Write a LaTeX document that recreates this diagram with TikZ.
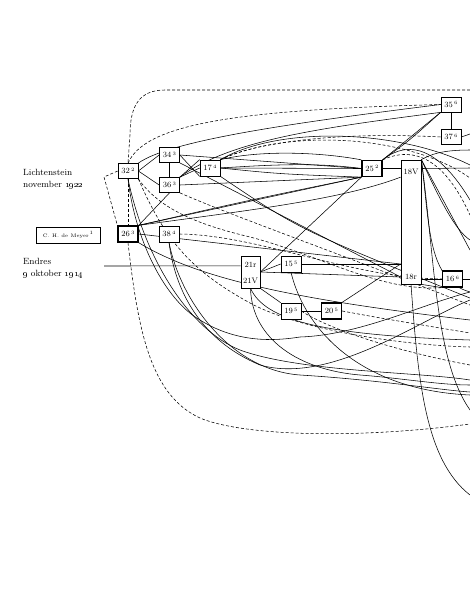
\documentclass[tikz,border=0pt]{standalone}
\pgfdeclarelayer{bg}
\pgfsetlayers{bg,main}
\newcommand\supn[1]{\,\raisebox{2.6pt}{\fontsize{5}{5}\selectfont #1}}
\begin{document}
\begin{tikzpicture}[x=1pt,y=-1pt,
  box/.style={draw,line width=0.7pt,inner sep=0pt,minimum width=20pt,minimum height=15pt,font=\fontsize{8}{8}\selectfont,fill=white},
  bbox/.style={box,line width=1.3pt},
  tx/.style={inner sep=0pt,font=\fontsize{8}{8}\selectfont},
  ln/.style={line width=0.55pt},
  dl/.style={line width=0.55pt,dash pattern=on 3pt off 2pt},
  lbl/.style={font=\fontsize{9}{12}\selectfont,align=left,anchor=west,inner sep=0pt}]
\useasboundingbox (0,0) rectangle (470,598);

% text labels
\node[lbl] (lich) at (23,179) {Lichtenstein\\november \oldstylenums{1922}};
\node[lbl] (endr) at (23,268) {Endres\\\oldstylenums{9} oktober \oldstylenums{1914}};

% boxes
\node[box,minimum width=64pt,minimum height=16pt,font=\fontsize{5}{6}\selectfont] (meyer) at (68,235) {C. H. de Meyer\supn{1}};
\node[box] (n32) at (128,171) {32\supn{2}};
\node[box] (n34) at (169.5,155) {34\supn{3}};
\node[box] (n36) at (169.5,185) {36\supn{3}};
\node[box,minimum height=16pt] (n17) at (210,168) {17\supn{4}};
\node[bbox,minimum height=16pt] (n26) at (128,234) {26\supn{3}};
\node[box,minimum height=16pt] (n38) at (169,234) {38\supn{4}};
\node[bbox,minimum height=16pt] (n25) at (372,168.5) {25\supn{2}};
\node[box,minimum height=124pt] (n18) at (411,222) {};
\node[tx] (t18v) at (411,172) {18V};
\node[tx] (t18r) at (411,277) {18r};
\node[box] (n35) at (451,104.5) {35\supn{6}};
\node[box] (n37) at (451,137) {37\supn{6}};
\node[box,minimum width=19pt,minimum height=32pt] (n21) at (250.5,272) {};
\node[tx] (t21r) at (250.5,265) {21r};
\node[tx] (t21v) at (250.5,281) {21V};
\node[box,minimum height=16pt] (n15) at (291,264) {15\supn{5}};
\node[box,minimum height=16pt] (n19) at (291,311) {19\supn{5}};
\node[bbox,minimum height=16pt] (n20) at (331.5,311) {20\supn{5}};
\node[bbox,minimum height=16pt] (n16) at (452.5,279) {16\supn{6}};

% free ends
\coordinate (endl) at (104,266);
\coordinate (kink) at (104,177);
\coordinate (ftop) at (470,90);
\coordinate (fbot) at (470,424);
\coordinate (r16) at (470,279);
\coordinate (r18) at (470,168);
\coordinate (r37) at (470,134);
\foreach \n/\y in {a/165,b/178,c/200,d/215,e/250,f/240,g/410,h/292,i/380,j/300,k/392,l/385,m/340,n/395,o/347,p/333,q/365,r/305,s/320,t/288,u/298,v/150,w/185}{\coordinate (r\n) at (470,\y);}
\coordinate (bot1) at (470,495);

\begin{pgfonlayer}{bg}
\fill[white] (0,0) rectangle (470,598);
% dashed frame
\draw[dl] (ftop) -- (165,90) .. controls (140,90) and (130,105) .. (130,135) -- (n32.north);
\draw[dl] (n26.south) .. controls (138,330) and (150,395) .. (200,418) .. controls (240,435) and (350,440) .. (fbot);
\draw[dl] (n32.west) -- (kink) -- (n26.north west);
\draw[dl] (n32.south) -- (n26.north);
\draw[dl] (n32.north) .. controls (145,125) and (230,110) .. (n35.west);
\draw[dl] (n17.north east) .. controls (260,140) and (350,132) .. (n37.west);
\draw[dl] (n17.north east) .. controls (290,128) and (410,135) .. (rb);
\draw[dl] (n25.north east) .. controls (415,145) and (445,160) .. (rd);
\draw[dl] (n38.east) .. controls (260,235) and (350,278) .. (n16.west);
\draw[dl] (n32.south east) .. controls (160,210) and (200,225) .. (250,237) .. controls (320,255) and (380,292) .. (n16.south west);
\draw[dl] (n32.south east) .. controls (165,240) and (190,270) .. (250,303) .. controls (300,330) and (400,345) .. (ro);
\draw[dl] (n20.east) .. controls (380,318) .. (rp);
\draw[dl] (n19.east) .. controls (330,330) and (400,352) .. (rq);
\draw[dl] (n36.south east) .. controls (230,215) and (330,250) .. (rr);

% solid connectors
\draw[ln] (endl) -- (n21.148);
\draw[ln] (n32.east) -- (n34.west);
\draw[ln] (n32.east) -- (n36.west);
\draw[ln] (n34) -- (n36);
\draw[ln] (n36.south) -- (n26.north east);
\draw[ln] (n34.east) -- (n17.south west);
\draw[ln] (n36.north east) -- (n17.north west);
\draw[ln] (n36.north east) -- (n17.west);
\draw[ln] (n34.east) -- (n25.west);
\draw[ln] (n34.south east) -- (n18.west |- t18r);
\draw[ln] (n17.east) -- (n25.west);
\draw[ln] (n17.east) .. controls (280,164) and (320,163) .. (n25.west);
\draw[ln] (n17.east) .. controls (280,174) .. (n25.south west);
\draw[ln] (n17.north east) .. controls (260,150) and (320,152) .. (n25.north west);
\draw[ln] (n17.north east) .. controls (280,125) and (400,130) .. (ra);
\draw[ln] (n17.south east) .. controls (300,230) .. (ru);
\draw[ln] (n36.east) -- (n25.south west);
\draw[ln] (n26.north east) -- (n25.south west);
\draw[ln] (n26.north east) .. controls (250,200) .. (n25.south west);
\draw[ln] (n26.north east) .. controls (250,210) and (340,200) .. (n18.103);
\draw[ln] (n26.east) -- (n18.west |- n15.east);
\draw[ln] (n15.east) -- (n18.west |- n15.east);
\draw[ln] (n21.east) -- (n15.west);
\draw[ln] (n21.east) -- (n25.south west);
\draw[ln] (n21.east) -- (n18.west |- t18r);
\draw[ln] (n21.south east) -- (n19.north west);
\draw[ln] (n19) -- (n20);
\draw[ln] (n20.north east) -- (n18.west |- n15.east);
\draw[ln] (n18.east |- n16.west) -- (n16.west);
\draw[ln] (n18.south east) -- (n16.south west);
\draw[ln] (n16.east) -- (r16);
\draw[ln] (n25.east) -- (n18.west |- n25.east);
\draw[ln] (n18.east |- n25.east) -- (r18);
\draw[ln] (n25.north east) -- (n35.south west);
\draw[ln] (n25.north east) .. controls (410,140) .. (n35.south west);
\draw[ln] (n35) -- (n37);
\draw[ln] (n37.east) -- (r37);
\draw[ln] (n32.north east) .. controls (170,140) and (300,122) .. (n35.west);
\draw[ln] (n36.north east) .. controls (230,140) and (320,128) .. (n35.south west);
\draw[ln] (n25.north east) .. controls (410,138) and (440,150) .. (rc);
\draw[ln] (n18.north east) .. controls (440,200) and (455,230) .. (rf);
\draw[ln] (n18.north east) -- (re);
\draw[ln] (n18.north east) .. controls (435,260) and (435,360) .. (rg);
\draw[ln] (n18.north east) .. controls (430,230) and (428,280) .. (rh);
\draw[ln] (n18.south) .. controls (418,380) and (425,460) .. (bot1);
\draw[ln] (rv) .. controls (440,150) and (430,155) .. (n18.north east);
% sweeps to lower right
\draw[ln] (n32.south) .. controls (135,240) and (165,300) .. (200,320) .. controls (240,345) and (280,340) .. (300,337) .. controls (360,335) and (420,305) .. (rh);
\draw[ln] (n32.south) .. controls (145,260) and (190,330) .. (240,350) .. controls (300,372) and (420,372) .. (ri);
\draw[ln] (n38.south) .. controls (175,290) and (200,340) .. (260,365) .. controls (330,385) and (420,320) .. (rj);
\draw[ln] (n38.south) .. controls (180,300) and (230,370) .. (300,375) .. controls (380,380) and (440,390) .. (rk);
\draw[ln] (n21.south) .. controls (252,340) and (300,370) .. (360,375) .. controls (400,378) and (440,385) .. (rl);
\draw[ln] (n21.south) .. controls (265,320) and (320,335) .. (rm);
\draw[ln] (n15.south) .. controls (305,330) and (360,390) .. (rn);
\draw[ln] (n26.south east) .. controls (200,280) and (300,300) .. (rs);
\end{pgfonlayer}
\end{tikzpicture}
\end{document}
